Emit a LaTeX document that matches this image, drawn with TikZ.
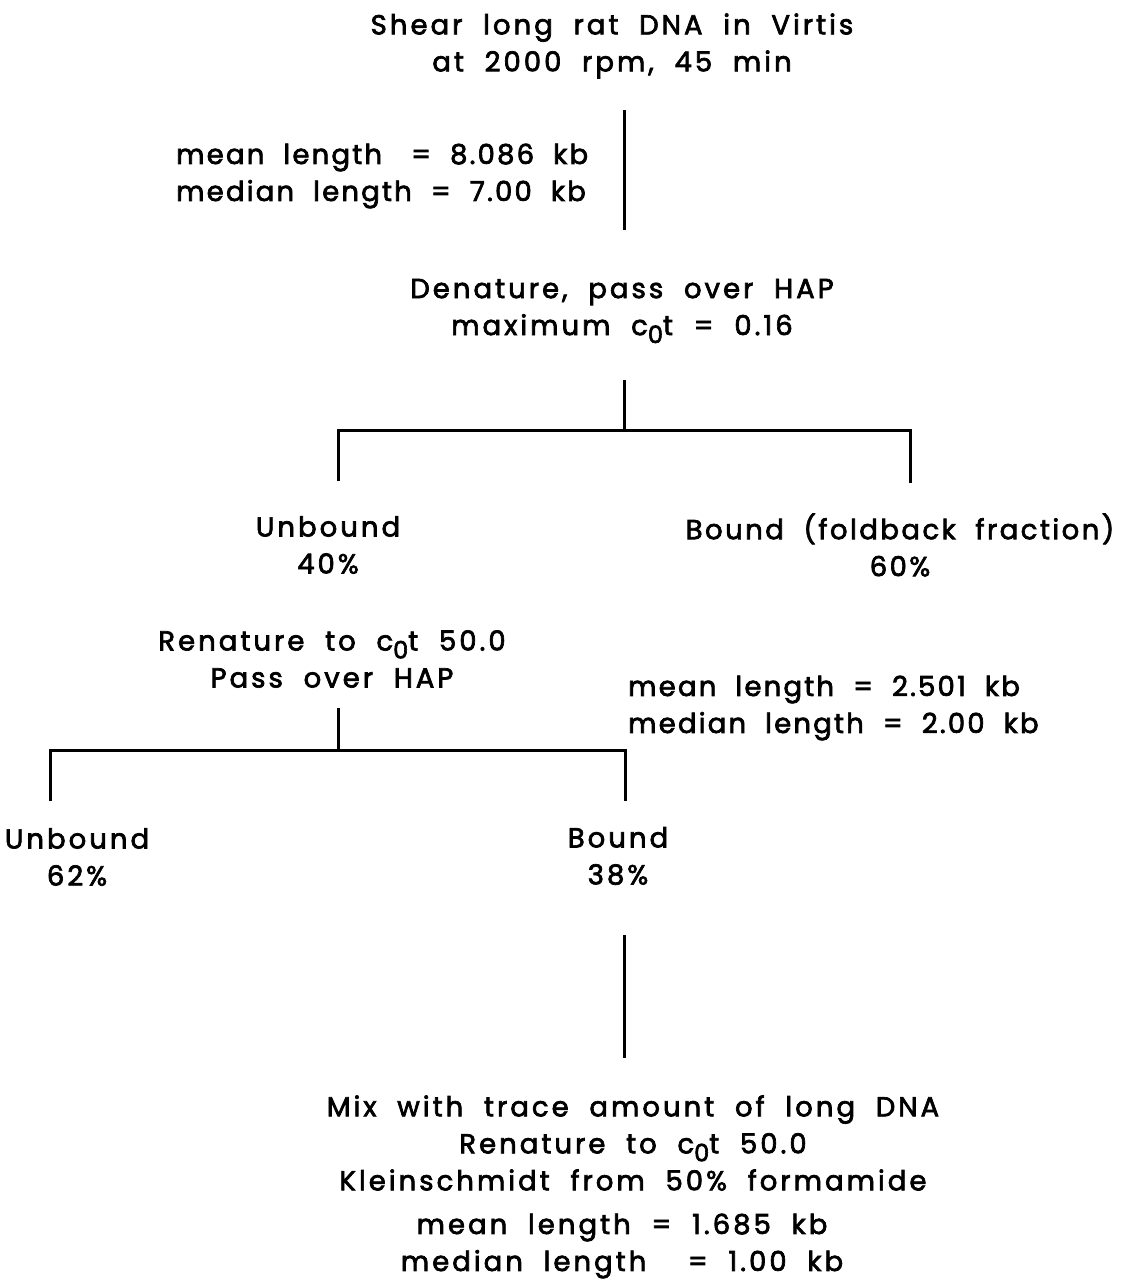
\documentclass[tikz,border=0pt]{standalone}
\usepackage{fontspec}
\setmainfont{Poppins}[LetterSpace=11,WordSpace=2,FakeBold=2.5]
\newcommand{\cotsym}{c{\fontsize{24}{24}\selectfont\raisebox{-8pt}{0}}t}
\begin{document}
\begin{tikzpicture}[x=1pt,y=-1pt,
  lbl/.style={inner sep=0pt,align=center,font=\fontsize{27.5}{37}\selectfont},
  lbll/.style={lbl,align=left,anchor=west},
  conn/.style={line width=3pt,line cap=butt}]
\useasboundingbox[fill=white] (0,0) rectangle (1120,1284);
% text
\node[lbl] (shear) at (612,46) {Shear long rat DNA in Virtis\\at 2000 rpm, 45 min};
\node[lbll,font=\fontsize{27.5}{37}\selectfont\addfontfeature{LetterSpace=8}] (len1) at (176,176) {mean length\hspace{10pt} = 8.086 kb\\median length = 7.00 kb};
\node[lbl] (denat) at (622,311) {Denature, pass over HAP\\maximum \cotsym{} = 0.16};
\node[lbl] (unb1) at (328,545) {Unbound\\40\%};
\node[lbl,font=\fontsize{27.5}{37}\selectfont\addfontfeature{LetterSpace=9}] (bnd1) at (900,545) {Bound (foldback fraction)\\60\%};
\node[lbl] (ren) at (332,659) {Renature to \cotsym{} 50.0\\Pass over HAP};
\node[lbll,font=\fontsize{27.5}{37}\selectfont\addfontfeature{LetterSpace=8}] (len2) at (628,708) {mean length = 2.501 kb\\median length = 2.00 kb};
\node[lbl] (unb2) at (77,857) {Unbound\\62\%};
\node[lbl] (bnd2) at (618,856) {Bound\\38\%};
\node[lbl] (mix) at (633,1143) {Mix with trace amount of long DNA\\Renature to \cotsym{} 50.0\\Kleinschmidt from 50\% formamide};
\node[lbl] (len3) at (622,1246) {mean length = 1.685 kb\\median length \ = 1.00 kb};
% junction coordinates
\coordinate (a1) at (624,110);
\coordinate (a2) at (624,230);
\coordinate (b1) at (624,380);
\coordinate (j1) at (624,430);
\coordinate (jl) at (338,430);
\coordinate (jr) at (910,430);
\coordinate (dl) at (338,481);
\coordinate (dr) at (910,483);
\coordinate (c1) at (338,708);
\coordinate (j2) at (338,750);
\coordinate (kl) at (50,750);
\coordinate (kr) at (625,750);
\coordinate (el) at (50,801);
\coordinate (er) at (625,801);
\coordinate (f1) at (624,935);
\coordinate (f2) at (624,1058);
% connectors
\draw[conn] (a1) -- (a2);
\draw[conn] (b1) -- (j1);
\draw[conn] (dl) -- (jl) -- (jr) -- (dr);
\draw[conn] (c1) -- (j2);
\draw[conn] (el) -- (kl) -- (kr) -- (er);
\draw[conn] (f1) -- (f2);
\end{tikzpicture}
\end{document}
